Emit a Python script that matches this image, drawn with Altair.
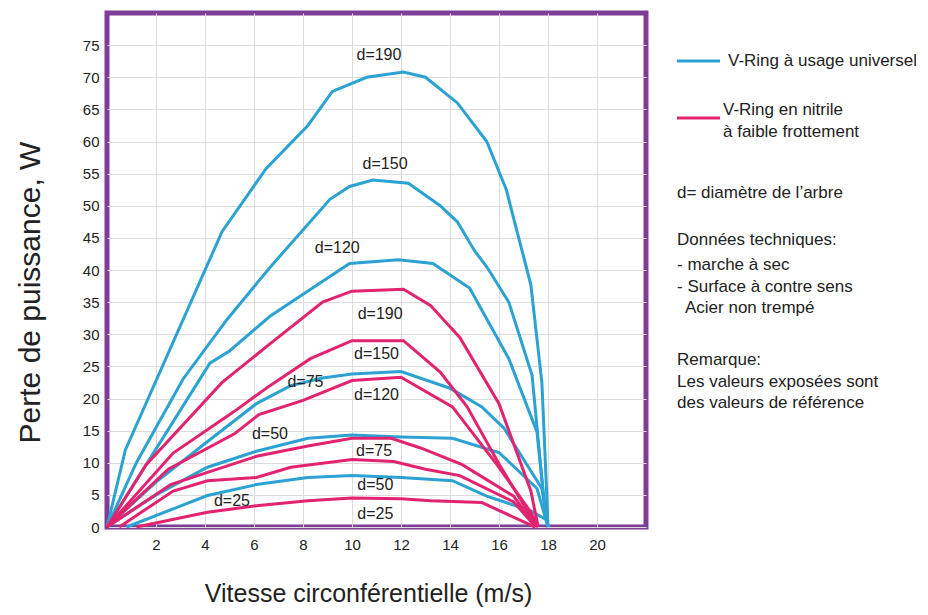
import altair as alt
import pandas as pd

# ---------------- data ----------------
# V-Ring à usage universel (blue)
U190_x = [0, 0.75, 4.7, 6.5, 8.2, 9.2, 10.6, 12.1, 13.0, 14.3, 15.5, 16.3, 16.6, 17.3, 17.75, 17.95, 18]
U190_y = [0, 12.0, 46.0, 55.8, 62.5, 67.8, 70.0, 70.8, 70.0, 66.0, 60.0, 52.5, 48.0, 37.7, 22.5, 5.0, 0]
U150_x = [0, 1.2, 3.1, 4.9, 6.65, 9.1, 9.9, 10.85, 12.3, 13.6, 14.3, 15.0, 15.5, 16.4, 17.35, 17.8, 18]
U150_y = [0, 10.0, 23.0, 32.3, 40.4, 51.0, 53.0, 54.0, 53.5, 50.0, 47.5, 43.0, 40.5, 35.0, 23.6, 5.5, 0]
U120_x = [0, 4.2, 5.0, 6.65, 9.9, 11.9, 13.3, 14.8, 16.4, 17.55, 17.8, 18]
U120_y = [0, 25.5, 27.4, 32.8, 41.0, 41.6, 41.0, 37.2, 26.2, 14.8, 5.5, 0]
U75_x = [0, 2, 4, 6.1, 7.5, 8.8, 10, 12, 14, 15.3, 16.2, 17.75, 18]
U75_y = [0, 7.0, 13.0, 19.2, 22.0, 23.2, 23.8, 24.2, 21.6, 18.7, 15.4, 6.0, 0]
U50_x = [0, 2, 4.1, 6.1, 8.2, 10, 12, 14.1, 16, 17.55, 18]
U50_y = [0, 5.0, 9.3, 11.8, 13.8, 14.3, 14.0, 13.8, 11.6, 6.0, 0]
U25_x = [0.8, 4.1, 6.1, 8.2, 10, 12, 14.1, 15.5, 17.3, 17.95, 18]
U25_y = [0, 4.9, 6.6, 7.7, 8.0, 7.7, 7.2, 4.8, 2.5, 1.1, 0]

# V-Ring en nitrile à faible frottement (pink)
N190_x = [0, 1.6, 4.7, 6.65, 8.8, 10, 12.1, 13.2, 14.4, 16, 17.3, 17.6]
N190_y = [0, 9.7, 22.5, 28.5, 35.0, 36.7, 37.0, 34.5, 29.5, 19.2, 5.6, 0]
N150_x = [0, 2.7, 5.2, 6.65, 8.3, 10, 12.1, 13.6, 14.7, 16, 17.4, 17.6]
N150_y = [0, 11.5, 18.0, 22.0, 26.2, 29.0, 29.0, 24.1, 18.7, 9.8, 1.0, 0]
N120_x = [0, 2.5, 5.2, 6.2, 8, 10, 12, 14.1, 15.9, 17.3, 17.6]
N120_y = [0, 9.0, 14.5, 17.5, 19.7, 22.8, 23.3, 18.7, 9.8, 2.3, 0]
N75_x = [0, 2.6, 4.1, 6.1, 8.2, 10, 11.6, 12.8, 14.5, 16.6, 17.5]
N75_y = [0, 6.6, 8.5, 11.0, 12.6, 13.8, 13.8, 12.3, 9.7, 4.8, 0]
N50_x = [0.5, 2.7, 4.1, 6.1, 7.5, 10, 11.7, 13, 14.4, 16.6, 17.5]
N50_y = [0, 5.6, 7.2, 7.7, 9.3, 10.5, 10.2, 9.0, 8.0, 3.9, 0]
N25_x = [1.2, 4.1, 6.1, 8.2, 10, 12, 13.2, 15.3, 17.3, 17.45]
N25_y = [0, 2.3, 3.3, 4.1, 4.5, 4.4, 4.1, 3.8, 0.3, 0]

KINDS = ["V-Ring à usage universel", "V-Ring en nitrile à faible frottement"]

series = [
    ("U190", KINDS[0], U190_x, U190_y), ("U150", KINDS[0], U150_x, U150_y),
    ("U120", KINDS[0], U120_x, U120_y), ("U75", KINDS[0], U75_x, U75_y),
    ("U50", KINDS[0], U50_x, U50_y), ("U25", KINDS[0], U25_x, U25_y),
    ("N190", KINDS[1], N190_x, N190_y), ("N150", KINDS[1], N150_x, N150_y),
    ("N120", KINDS[1], N120_x, N120_y), ("N75", KINDS[1], N75_x, N75_y),
    ("N50", KINDS[1], N50_x, N50_y), ("N25", KINDS[1], N25_x, N25_y),
]

# curve labels (text, x, y in data units)
label_text = ["d=190", "d=150", "d=120", "d=75", "d=50", "d=25",
              "d=190", "d=150", "d=120", "d=75", "d=50", "d=25"]
label_x = [11.1, 11.35, 9.4, 8.1, 6.65, 5.1, 11.15, 11.0, 11.0, 10.9, 10.95, 10.95]
label_y = [73.5, 56.5, 43.5, 22.5, 14.4, 4.1, 33.1, 26.9, 20.5, 11.8, 6.6, 2.1]

legend_notes = ["d= diamètre de l’arbre", "Données techniques:", "- marche à sec",
                "- Surface à contre sens", "Acier non trempé", "Remarque:",
                "Les valeurs exposées sont", "des valeurs de référence"]

x_ticks = list(range(2, 21, 2))
y_ticks = list(range(0, 76, 5))

# ---------------- styles ----------------
BLUE = "#2ba2d2"
PINK = "#e2236f"
PURPLE = "#7e3d97"
FONT = "Liberation Sans"
TXT = "#222222"

rows = []
for name, kind, xs, ys in series:
    for i, (x, y) in enumerate(zip(xs, ys)):
        rows.append({"x": x, "y": y, "serie": name, "kind": kind, "i": i})
df = pd.DataFrame(rows)

labels_df = pd.DataFrame({"t": label_text, "x": label_x, "y": label_y})

xscale = alt.Scale(domain=[0, 22], nice=False, zero=False)
yscale = alt.Scale(domain=[0, 80], nice=False)

lines = alt.Chart(df).mark_line(strokeWidth=3).encode(
    x=alt.X("x:Q", scale=xscale, axis=alt.Axis(
        values=x_ticks, tickCount=30, title="Vitesse circonférentielle (m/s)", grid=True,
        domain=False, ticks=False, labelPadding=10, labelFontSize=15,
        labelOverlap=False,
        labelFont=FONT, labelColor=TXT, titleFont=FONT, titleFontSize=25,
        titleFontWeight="normal", titleColor=TXT, titleX=261, titleY=66,
        titleAlign="center", titleBaseline="middle")),
    y=alt.Y("y:Q", scale=yscale, axis=alt.Axis(
        values=y_ticks, tickCount=30, title="Perte de puissance, W", grid=True,
        domain=False, ticks=False, labelPadding=8, labelFontSize=15,
        labelOverlap=False,
        labelFont=FONT, labelColor=TXT, titleFont=FONT, titleFontSize=30,
        titleFontWeight="normal", titleColor=TXT, titleAngle=270,
        titleX=-62, titleY=279, titleAlign="center", titleBaseline="bottom")),
    color=alt.Color("kind:N", scale=alt.Scale(domain=KINDS, range=[BLUE, PINK]), legend=None),
    detail="serie:N",
    order="i:Q",
)

curve_labels = alt.Chart(labels_df).mark_text(
    font=FONT, fontSize=16, color=TXT, align="center", baseline="middle"
).encode(x="x:Q", y="y:Q", text="t:N")

one = pd.DataFrame({"k": [0]})
layers = [lines, curve_labels]

# legend swatches (pixel positions relative to the plot area)
layers.append(alt.Chart(one).mark_rule(color=BLUE, strokeWidth=3).encode(
    x=alt.value(570), x2=alt.value(613), y=alt.value(48)))
layers.append(alt.Chart(one).mark_rule(color=PINK, strokeWidth=3).encode(
    x=alt.value(570), x2=alt.value(613), y=alt.value(105)))

legend_text_pos = [
    ("V-Ring à usage universel", 621, 48),
    ("V-Ring en nitrile", 616, 97),
    ("à faible frottement", 616, 119),
]
note_pos = [(570, 180), (570, 227), (570, 252), (570, 274), (578, 295),
            (570, 347), (570, 369), (570, 390)]
for txt, (px, py) in zip(legend_notes, note_pos):
    legend_text_pos.append((txt, px, py))

for txt, px, py in legend_text_pos:
    layers.append(alt.Chart(one).mark_text(
        text=txt, font=FONT, fontSize=17, color=TXT, align="left", baseline="middle"
    ).encode(x=alt.value(px), y=alt.value(py)))

chart = alt.layer(*layers).properties(
    width=539, height=514,
    padding={"left": 99, "top": 5, "right": 270, "bottom": 80},
    autosize=alt.AutoSizeParams(type="none"),
    background="white",
).configure_view(
    stroke=PURPLE, strokeWidth=5
).configure_axis(
    gridColor="#dcdcdc", gridWidth=1
)

chart.save("out.html", embed_options={"renderer": "svg", "actions": False})
